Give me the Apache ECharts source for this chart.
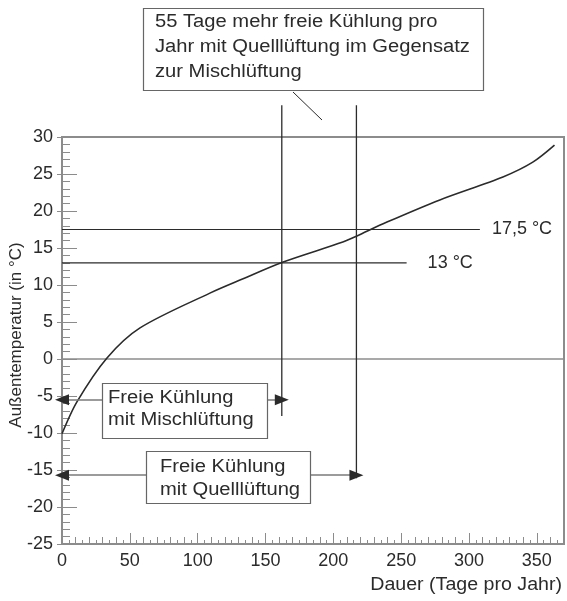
<!DOCTYPE html>
<html>
<head>
<meta charset="utf-8">
<script src="https://cdn.jsdelivr.net/npm/echarts@6/dist/echarts.min.js"></script>
<style>
  html, body { margin: 0; padding: 0; background: #fff; }
  #c { width: 567px; height: 601px; }
</style>
</head>
<body>
<div id="c"></div>
<script>
// Outdoor temperature duration curve (days per year at or below a given temperature)
const days  = [0, 11, 33, 57.5, 109, 133, 163, 207, 217, 239.5, 278.5, 325, 347, 363];
const temps = [-10.1, -5.8, 0.1, 4.2, 8.9, 10.8, 13.1, 15.8, 16.6, 18.5, 21.5, 24.6, 26.6, 28.9];

// Free-cooling limits: supply temperature thresholds and the day counts where they are reached
const refTemps   = [17.5, 13];
const refLabels  = ['17,5 °C', '13 °C'];
const refLineEnd = [308, 254];
const mischDay = 162;   // mixing ventilation reaches 13 °C
const quellDay = 217;   // displacement ventilation reaches 17,5 °C

const xTicksMajor = [0, 50, 100, 150, 200, 250, 300, 350];

const FONT = '"Liberation Sans", Arial, Helvetica, sans-serif';
const GRAY = '#8c8c8c';
const INK = '#2b2b2b';
const ARROW_GRAY = '#7a7a7a';
const TXT_SCALE = 1.12;

const chart = echarts.init(document.getElementById('c'));

function arrowHead(from, to) {
  return [
    { coord: from, symbol: 'none' },
    { coord: to, symbol: 'triangle', symbolSize: [11, 14], lineStyle: { color: INK } }
  ];
}

function boxText(x, y, text, lineHeight) {
  return {
    type: 'text', silent: true, z: 101, x: x, y: y, scaleX: TXT_SCALE,
    style: { text: text, font: '18px ' + FONT, fill: INK, lineHeight: lineHeight, verticalAlign: 'top' }
  };
}

const option = {
  animation: false,
  backgroundColor: '#fff',
  grid: {
    left: 62, right: 3, top: 137, bottom: 57, show: true,
    borderColor: GRAY, borderWidth: 2, containLabel: false, outerBoundsMode: 'none'
  },
  xAxis: [
    {
      type: 'value', min: 0, max: 370, interval: 10,
      axisLine: { onZero: false, lineStyle: { color: GRAY, width: 2 } },
      axisTick: { inside: true, length: 7, lineStyle: { color: GRAY, width: 1 } },
      minorTick: { show: true, splitNumber: 2, length: 4, lineStyle: { color: GRAY, width: 1 } },
      axisLabel: { show: false },
      splitLine: { show: false }
    },
    {
      type: 'value', min: 0, max: 370, interval: 50, position: 'bottom',
      axisLine: { show: false, onZero: false },
      axisTick: { inside: true, length: 11, lineStyle: { color: GRAY, width: 1 } },
      axisLabel: {
        color: INK, fontSize: 18, fontFamily: FONT, margin: 8,
        formatter: v => (xTicksMajor.indexOf(v) >= 0 ? String(v) : '')
      },
      splitLine: { show: false }
    }
  ],
  yAxis: [
    {
      type: 'value', min: -25, max: 30, interval: 5,
      axisLine: { onZero: false, lineStyle: { color: GRAY, width: 2 } },
      axisTick: { inside: true, length: 15, lineStyle: { color: GRAY, width: 1 } },
      minorTick: { show: true, splitNumber: 5, length: 8, lineStyle: { color: GRAY, width: 1 } },
      axisLabel: { show: false },
      splitLine: { show: false }
    },
    {
      type: 'value', min: -25, max: 30, interval: 5, position: 'left',
      axisLine: { show: false, onZero: false },
      axisTick: { inside: false, length: 5, lineStyle: { color: GRAY, width: 1 } },
      axisLabel: { color: INK, fontSize: 18, fontFamily: FONT, margin: 9 },
      splitLine: { show: false }
    }
  ],
  series: [
    {
      name: 'zero', type: 'line', symbol: 'none', silent: true, clip: false,
      data: [[0, 0], [370, 0]],
      lineStyle: { color: GRAY, width: 1.5 },
      markLine: {
        silent: true, symbol: 'none', label: { show: false },
        lineStyle: { type: 'solid' },
        emphasis: { disabled: true },
        data: [
          // connectors from the label boxes to the axis and to the limit lines
          [{ coord: [29.5, -5.5], lineStyle: { color: ARROW_GRAY, width: 1.5 } }, { coord: [0, -5.5] }],
          [{ coord: [151, -5.5], lineStyle: { color: ARROW_GRAY, width: 1.5 } }, { coord: [mischDay, -5.5] }],
          [{ coord: [62, -15.7], lineStyle: { color: ARROW_GRAY, width: 1.5 } }, { coord: [0, -15.7] }],
          [{ coord: [183, -15.7], lineStyle: { color: ARROW_GRAY, width: 1.5 } }, { coord: [quellDay, -15.7] }],
          // difference bracket between both limits
          [{ coord: [mischDay, 32.3], lineStyle: { color: INK, width: 1.3 } }, { coord: [quellDay, 32.3] }]
        ]
      }
    },
    {
      name: 'arrows', type: 'line', symbol: 'none', silent: true, clip: false, data: [],
      markLine: {
        silent: true, label: { show: false },
        lineStyle: { type: 'solid', color: INK, width: 1.3 },
        emphasis: { disabled: true },
        data: [
          arrowHead([4, -5.5], [0, -5.5]),
          arrowHead([mischDay - 4, -5.5], [mischDay, -5.5]),
          arrowHead([4, -15.7], [0, -15.7]),
          arrowHead([quellDay - 4, -15.7], [quellDay, -15.7]),
          arrowHead([mischDay + 4, 32.3], [mischDay, 32.3]),
          arrowHead([quellDay - 4, 32.3], [quellDay, 32.3])
        ]
      }
    },
    {
      name: 'ref0', type: 'line', symbol: 'none', silent: true, clip: false,
      data: [[0, refTemps[0]], [refLineEnd[0], refTemps[0]]],
      lineStyle: { color: INK, width: 1.2 },
      endLabel: { show: true, formatter: refLabels[0], color: INK, fontSize: 18, fontFamily: FONT, distance: 12 }
    },
    {
      name: 'ref1', type: 'line', symbol: 'none', silent: true, clip: false,
      data: [[0, refTemps[1]], [refLineEnd[1], refTemps[1]]],
      lineStyle: { color: INK, width: 1.2 },
      endLabel: { show: true, formatter: refLabels[1], color: INK, fontSize: 18, fontFamily: FONT, distance: 21 }
    },
    {
      name: 'misch', type: 'line', symbol: 'none', silent: true, clip: false,
      data: [[mischDay, -7.7], [mischDay, 34.3]],
      lineStyle: { color: INK, width: 1.3 }
    },
    {
      name: 'quell', type: 'line', symbol: 'none', silent: true, clip: false,
      data: [[quellDay, -16.1], [quellDay, 34.3]],
      lineStyle: { color: INK, width: 1.3 }
    },
    {
      name: 'Außentemperatur', type: 'line', symbol: 'none', silent: true,
      smooth: 0.3,
      data: days.map((d, i) => [d, temps[i]]),
      lineStyle: { color: INK, width: 1.6 }
    }
  ],
  graphic: [
    { type: 'line', silent: true, shape: { x1: 293, y1: 92, x2: 322, y2: 120 }, style: { stroke: INK, lineWidth: 1 } },
    { type: 'rect', silent: true, shape: { x: 143.5, y: 8.5, width: 340, height: 82 }, style: { fill: '#fff', stroke: '#666', lineWidth: 1.2 } },
    boxText(155, 9.5, '55 Tage mehr freie Kühlung pro\nJahr mit Quelllüftung im Gegensatz\nzur Mischlüftung', 25),
    { type: 'rect', silent: true, z: 100, shape: { x: 102.5, y: 383.5, width: 165, height: 55 }, style: { fill: '#fff', stroke: '#666', lineWidth: 1.2 } },
    boxText(108, 387, 'Freie Kühlung\nmit Mischlüftung', 22),
    { type: 'rect', silent: true, z: 100, shape: { x: 146.5, y: 451.5, width: 164, height: 52 }, style: { fill: '#fff', stroke: '#666', lineWidth: 1.2 } },
    boxText(160, 455.5, 'Freie Kühlung\nmit Quelllüftung', 23),
    {
      type: 'text', silent: true, x: 562, y: 576, scaleX: TXT_SCALE,
      style: { text: 'Dauer (Tage pro Jahr)', font: '17.5px ' + FONT, fill: INK, align: 'right', verticalAlign: 'top' }
    },
    {
      // y-axis title, set vertically beside the tick labels
      type: 'text', silent: true, x: 16, y: 335, rotation: Math.PI / 2,
      style: { text: 'Außentemperatur (in °C)', font: '17px ' + FONT, fill: INK, align: 'center', verticalAlign: 'middle' }
    }
  ]
};

chart.setOption(option);
</script>
</body>
</html>
